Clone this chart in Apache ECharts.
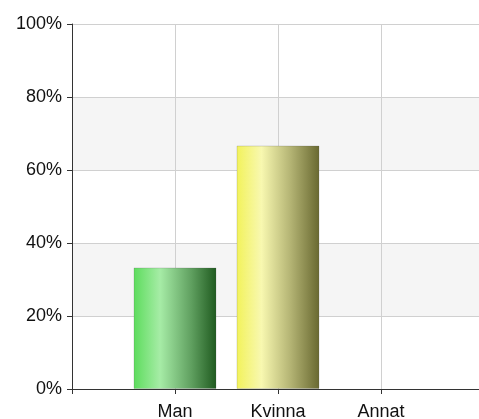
<!DOCTYPE html>
<html>
<head>
<meta charset="utf-8">
<script src="https://cdn.jsdelivr.net/npm/echarts@6/dist/echarts.min.js"></script>
<style>
html, body { margin: 0; padding: 0; background: #fff; overflow: hidden; }
#chart-container { width: 479px; height: 419px; }
</style>
</head>
<body>
<div id="chart-container"></div>
<script>
// kategorier (tomma ändar ger luft på sidorna)
var categories = ['', 'Man', 'Kvinna', 'Annat', ''];
// andel i procent
var values = [null, 33.3, 66.7, 0, null];
var yTicks = [0, 20, 40, 60, 80, 100];

var barColors = [
	null,
	[['#5cdc5c', 0], ['#a6eca6', 0.32], ['#5f9f5f', 0.7], ['#1f5a1f', 1]],
	[['#f2f25a', 0], ['#f8f8b0', 0.3], ['#b4b474', 0.65], ['#686830', 1]],
	[['#cccccc', 0], ['#cccccc', 1]],
	null
];

function grad(stops) {
	return new echarts.graphic.LinearGradient(0, 0, 1, 0, stops.map(function (s) {
		return { offset: s[1], color: s[0] };
	}));
}

var chartDom = document.getElementById('chart-container');
var myChart = echarts.init(chartDom);

var option = {
	animation: false,
	grid: {
		left: 72,
		top: 24,
		right: -5,
		bottom: 30,
		outerBoundsMode: 'none'
	},
	xAxis: {
		type: 'category',
		data: categories,
		boundaryGap: false,
		axisLine: { lineStyle: { color: '#333', width: 1 } },
		axisTick: { show: true, length: 5, lineStyle: { color: '#333' } },
		axisLabel: {
			margin: 14,
			color: '#111',
			fontFamily: 'Liberation Sans, Arial, sans-serif',
			fontSize: 18,
			interval: 0
		},
		splitLine: { show: true, lineStyle: { color: '#d0d0d0' } }
	},
	yAxis: {
		type: 'value',
		min: 0,
		max: 100,
		interval: 20,
		axisLine: { show: true, lineStyle: { color: '#333', width: 1 } },
		axisTick: { show: true, length: 5, lineStyle: { color: '#333' } },
		axisLabel: {
			margin: 10,
			color: '#111',
			fontFamily: 'Liberation Sans, Arial, sans-serif',
			fontSize: 18,
			formatter: function (v) {
				return yTicks.indexOf(v) >= 0 ? v + '%' : '';
			}
		},
		splitLine: { show: true, lineStyle: { color: '#d0d0d0' } },
		splitArea: { show: true, areaStyle: { color: ['#ffffff', '#f5f5f5'] } }
	},
	series: [{
		type: 'bar',
		barWidth: 83,
		data: values.map(function (v, i) {
			if (v === null) return null;
			return {
				value: v,
				itemStyle: {
					color: grad(barColors[i]),
					borderColor: 'rgba(80,80,80,0.2)',
					borderWidth: v > 0 ? 1 : 0,
					opacity: v > 0 ? 1 : 0
				}
			};
		})
	}]
};

myChart.setOption(option);

window.addEventListener('resize', function () {
	myChart.resize();
});
</script>
</body>
</html>
